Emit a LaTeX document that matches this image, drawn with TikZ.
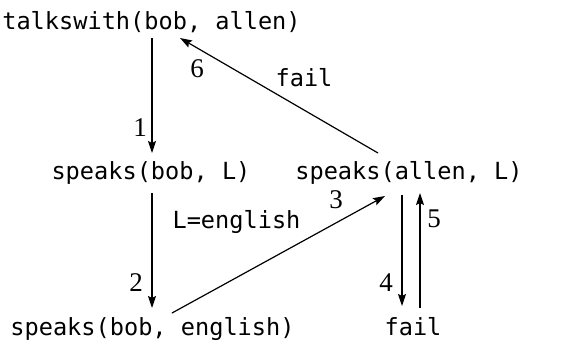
\documentclass[tikz,border=0pt]{standalone}
\usepackage{fontspec}
\usetikzlibrary{calc,arrows.meta}
\newfontfamily\termfont{DejaVu Sans Mono}
\newfontfamily\numfont{Liberation Serif}
\tikzset{
  term/.style={inner sep=0pt, anchor=base, font=\termfont\fontsize{23.6}{26}\selectfont},
  num/.style={inner sep=0pt, font=\numfont\fontsize{27}{29}\selectfont},
  arr/.style={line width=1.2pt, -{Stealth[length=12pt,width=8pt,inset=2pt]}}
}
\begin{document}
\begin{tikzpicture}[x=1pt,y=-1pt]
\useasboundingbox (0,0) rectangle (581,343);
\node[term] (t) at (151.5,29) {talkswith(bob, allen)};
\node[term] (sb) at (151,179) {speaks(bob, L)};
\node[term] (sa) at (409,179) {speaks(allen, L)};
\node[term] (sbe) at (152.5,335) {speaks(bob, english)};
\node[term] (fail) at (413,335) {fail};
\node[term] (failtxt) at (304,86) {fail};
\node[term] (leng) at (236.5,228) {L=english};
\node[num] (n1) at (140,128) {1};
\node[num] (n2) at (136,283) {2};
\node[num] (n3) at (336,200) {3};
\node[num] (n4) at (386,283) {4};
\node[num] (n5) at (434,219) {5};
\node[num] (n6) at (197,69) {6};
\draw[arr] ($(t.base)+(0.5,9)$) -- ($(sb.base)+(1,-26)$);
\draw[arr] ($(sb.base)+(1,14)$) -- ($(sbe.base)+(-0.5,-27)$);
\draw[arr] ($(sbe.base)+(19.5,-22)$) -- ($(sa.base)+(-24,17)$);
\draw[arr] ($(sa.base)+(-31,-26)$) -- ($(t.base)+(28.5,9)$);
\draw[arr] ($(sa.base)+(-7,16)$) -- ($(fail.base)+(-11,-29)$);
\draw[arr] ($(fail.base)+(7,-27)$) -- ($(sa.base)+(11,14)$);
\end{tikzpicture}
\end{document}
